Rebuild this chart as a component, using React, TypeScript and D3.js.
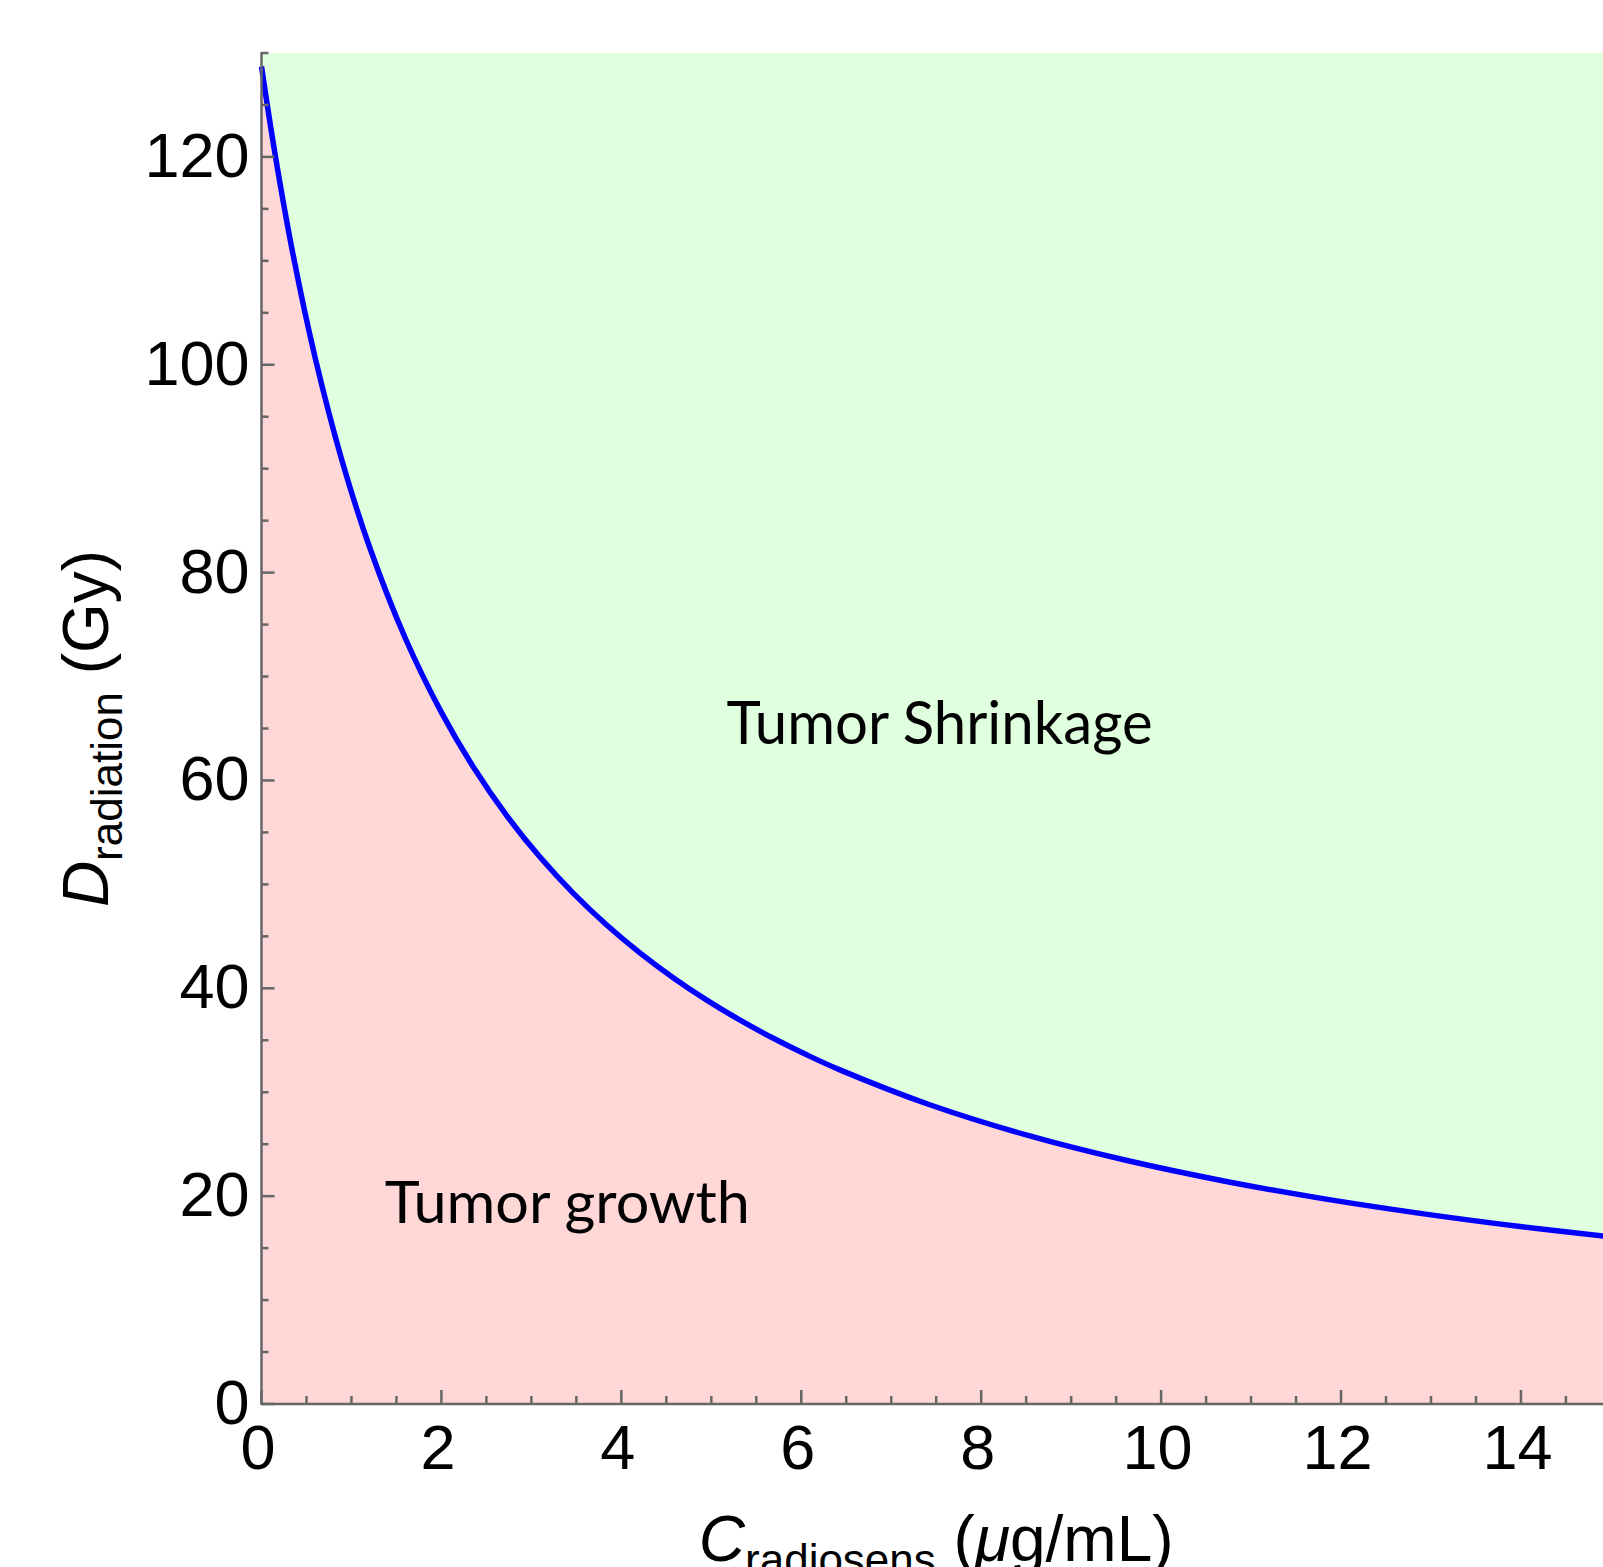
import React, { useEffect, useRef } from 'react';
import * as d3 from 'd3';

// curve values
const concentration = [0, 0.15, 0.35, 0.6, 0.9, 1.2, 1.6, 2.0, 2.36, 2.73, 3.1, 3.47, 3.84, 4.21, 4.58, 4.95, 5.32, 5.69, 6.06, 6.43, 7.42, 8.51, 9.61, 10.71, 11.8, 12.9, 13.99, 15.0];
const dose = [128.7, 120.31, 110.64, 100.55, 90.63, 82.49, 73.66, 66.55, 61.22, 56.57, 52.58, 49.11, 46.07, 43.39, 41.0, 38.86, 36.93, 35.19, 33.6, 32.15, 28.82, 25.87, 23.45, 21.44, 19.76, 18.32, 17.08, 16.07];

const xMajorTicks = [0, 2, 4, 6, 8, 10, 12, 14];
const yMajorTicks = [0, 20, 40, 60, 80, 100, 120];
const xMinorTicks = d3.range(0, 15.01, 0.5).filter(v => v % 2 !== 0);
const yMinorTicks = d3.range(0, 130.01, 5).filter(v => v % 20 !== 0);

const regionLabels = [
  { text: 'Tumor Shrinkage', c: 5.17, d: 63.5, size: 60.5, length: 426 },
  { text: 'Tumor growth', c: 1.37, d: 17.4, size: 58, length: 365 },
];

const App = () => {
  const svgRef = useRef(null);

  useEffect(() => {
    const width = 1603;
    const height = 1567;
    const axisColor = '#666666';

    const svg = d3.select(svgRef.current)
      .attr('width', width)
      .attr('height', height);
    svg.selectAll('*').remove();

    const x = d3.scaleLinear().domain([0, 15]).range([261.5, 261.5 + 15 * 89.96]);
    const y = d3.scaleLinear().domain([0, 130]).range([1404, 53]);

    const points = concentration.map((c, i) => ({ c, d: dose[i] }));
    const curve = d3.curveCatmullRom.alpha(0.5);

    // shaded regions
    svg.append('path')
      .datum(points)
      .attr('fill', '#dfffdf')
      .attr('d', d3.area()
        .x(p => x(p.c))
        .y0(p => y(p.d))
        .y1(y(130))
        .curve(curve));

    svg.append('path')
      .datum(points)
      .attr('fill', '#ffd7d7')
      .attr('d', d3.area()
        .x(p => x(p.c))
        .y0(y(0))
        .y1(p => y(p.d))
        .curve(curve));

    // boundary curve
    svg.append('path')
      .datum(points)
      .attr('fill', 'none')
      .attr('stroke', '#0000ff')
      .attr('stroke-width', 5.5)
      .attr('d', d3.line()
        .x(p => x(p.c))
        .y(p => y(p.d))
        .curve(curve));

    // axes
    const axes = svg.append('g')
      .attr('stroke', axisColor)
      .attr('stroke-width', 2.5);

    axes.append('line')
      .attr('x1', x(0)).attr('x2', width)
      .attr('y1', y(0)).attr('y2', y(0));
    axes.append('line')
      .attr('x1', x(0)).attr('x2', x(0))
      .attr('y1', y(0) + 1).attr('y2', y(130) - 1);

    axes.selectAll('.xmaj').data(xMajorTicks).enter().append('line')
      .attr('x1', v => x(v)).attr('x2', v => x(v))
      .attr('y1', y(0)).attr('y2', y(0) - 14);
    axes.selectAll('.xmin').data(xMinorTicks).enter().append('line')
      .attr('x1', v => x(v)).attr('x2', v => x(v))
      .attr('y1', y(0)).attr('y2', y(0) - 8);
    axes.selectAll('.ymaj').data(yMajorTicks).enter().append('line')
      .attr('x1', x(0)).attr('x2', x(0) + 13)
      .attr('y1', v => y(v)).attr('y2', v => y(v));
    axes.selectAll('.ymin').data(yMinorTicks).enter().append('line')
      .attr('x1', x(0)).attr('x2', x(0) + 7)
      .attr('y1', v => y(v)).attr('y2', v => y(v));

    // tick labels
    const labels = svg.append('g')
      .attr('font-family', '"Liberation Sans", Arial, sans-serif')
      .attr('font-size', 63)
      .attr('fill', '#000');

    labels.selectAll('.xl').data(xMajorTicks).enter().append('text')
      .attr('x', v => x(v) - 3.5)
      .attr('y', 1469)
      .attr('text-anchor', 'middle')
      .text(v => v);

    labels.selectAll('.yl').data(yMajorTicks).enter().append('text')
      .attr('x', 249.5)
      .attr('y', v => y(v) + 20)
      .attr('text-anchor', 'end')
      .text(v => v);

    // axis titles
    const titleFont = '"Liberation Sans", Arial, sans-serif';
    const yTitle = svg.append('text')
      .attr('transform', `translate(108, ${(y(0) + y(130)) / 2}) rotate(-90)`)
      .attr('text-anchor', 'middle')
      .attr('font-family', titleFont)
      .attr('font-size', 64);
    yTitle.append('tspan').attr('font-style', 'italic').text('D');
    yTitle.append('tspan').attr('font-size', 44).attr('dy', 14).text('radiation');
    yTitle.append('tspan').attr('dy', -14).text('\u00a0(Gy)');

    const xTitle = svg.append('text')
      .attr('x', (x(0) + x(15)) / 2)
      .attr('y', 1561)
      .attr('text-anchor', 'middle')
      .attr('font-family', titleFont)
      .attr('font-size', 64);
    xTitle.append('tspan').attr('font-style', 'italic').text('C');
    xTitle.append('tspan').attr('font-size', 44).attr('dy', 14).text('radiosens');
    xTitle.append('tspan').attr('dy', -14).text('\u00a0(');
    xTitle.append('tspan').attr('font-style', 'italic').text('\u03bc');
    xTitle.append('tspan').text('g/mL)');

    // region labels
    svg.selectAll('.region').data(regionLabels).enter().append('text')
      .attr('x', r => x(r.c))
      .attr('y', r => y(r.d))
      .attr('font-family', 'Lato, "Open Sans", sans-serif')
      .attr('font-size', r => r.size)
      .attr('textLength', r => r.length)
      .attr('lengthAdjust', 'spacingAndGlyphs')
      .attr('fill', '#000')
      .text(r => r.text);
  }, []);

  return (
    <svg ref={svgRef} style={{ position: 'absolute', left: 0, top: 0, display: 'block' }}></svg>
  );
};

export default App;
